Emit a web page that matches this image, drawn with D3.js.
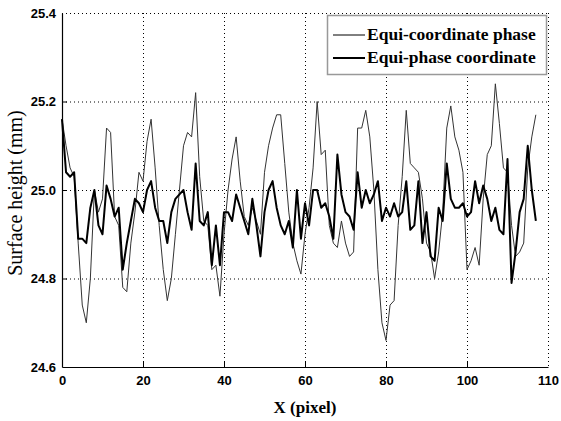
<!DOCTYPE html>
<html>
<head>
<meta charset="utf-8">
<script src="https://cdn.jsdelivr.net/npm/d3@7"></script>
<style>
  body { margin: 0; background: #fff; }
</style>
</head>
<body>
<script>
// tick values and labels
const xTicks = [0, 20, 40, 60, 80, 100, 120];
const xTickLabels = ["0", "20", "40", "60", "80", "100", "110"];
const yTicks = [24.6, 24.8, 25.0, 25.2, 25.4];

const seriesNames = ["Equi-coordinate phase", "Equi-phase coordinate"];

// thin line
const equiCoordPhase = [
  25.16, 25.10, 25.05, 25.03, 24.88, 24.74, 24.70, 24.80, 25.00, 24.95,
  24.98, 25.14, 25.13, 24.94, 24.92, 24.78, 24.77, 24.88, 24.95, 25.04,
  25.02, 25.11, 25.16, 25.05, 24.92, 24.82, 24.75, 24.80, 24.90, 25.00,
  25.10, 25.13, 25.12, 25.22, 25.03, 24.93, 24.92, 24.82, 24.83, 24.76,
  24.90, 25.00, 25.07, 25.12, 25.02, 24.94, 24.92, 24.96, 24.93, 24.90,
  25.04, 25.10, 25.14, 25.17, 25.17, 25.06, 24.95, 24.88, 24.84, 24.81,
  24.90, 24.96, 25.05, 25.20, 25.08, 25.09, 24.92, 24.88, 24.87, 24.93,
  24.88, 24.85, 24.86, 25.14, 25.14, 25.18, 25.12, 25.00, 24.82, 24.70,
  24.66, 24.74, 24.75, 24.92, 25.03, 25.18, 25.06, 25.05, 25.04, 24.98,
  24.88, 24.86, 24.80, 24.86, 24.95, 25.14, 25.19, 25.12, 25.09, 25.04,
  24.82, 24.84, 24.87, 24.83, 24.98, 25.08, 25.10, 25.24, 25.15, 25.05,
  25.04, 24.92, 24.85, 24.86, 24.88, 25.05, 25.12, 25.17
];

// thick line
const equiPhaseCoord = [
  25.16, 25.04, 25.03, 25.04, 24.89, 24.89, 24.88, 24.96, 25.00, 24.92,
  24.90, 25.01, 24.98, 24.94, 24.96, 24.82, 24.88, 24.93, 24.98, 24.97,
  24.95, 25.00, 25.02, 24.96, 24.93, 24.93, 24.88, 24.95, 24.98, 24.99,
  25.00, 24.95, 24.91, 25.06, 24.93, 24.92, 24.95, 24.83, 24.92, 24.83,
  24.95, 24.95, 24.93, 24.99, 24.96, 24.93, 24.90, 24.98, 24.92, 24.85,
  24.95, 25.00, 25.02, 24.96, 24.92, 24.90, 24.93, 24.87, 25.00, 24.89,
  24.97, 24.92, 25.00, 25.00, 24.96, 24.97, 24.94, 24.89, 25.08, 24.99,
  24.95, 24.94, 24.91, 25.04, 24.96, 25.00, 24.97, 24.99, 25.02, 24.93,
  24.96, 24.94, 24.97, 24.94, 24.95, 25.02, 24.91, 24.92, 25.02, 24.88,
  24.95, 24.85, 24.84, 24.96, 24.93, 25.06, 24.98, 24.96, 24.96, 24.97,
  24.94, 24.95, 25.02, 24.97, 25.01, 24.98, 24.93, 24.96, 24.91, 24.90,
  25.07, 24.79, 24.86, 24.95, 24.98, 25.10, 25.00, 24.93
];

const W = 561, H = 421;
const margin = { left: 62, right: 13, top: 13, bottom: 54 };
const width = W - margin.left - margin.right;
const height = H - margin.top - margin.bottom;

const svg = d3.select("body").append("svg")
  .attr("width", W)
  .attr("height", H);

const g = svg.append("g")
  .attr("transform", "translate(" + margin.left + "," + margin.top + ")");

const xScale = d3.scaleLinear().domain([0, 120]).range([0, width]);
const yScale = d3.scaleLinear().domain([24.6, 25.4]).range([height, 0]);

// dotted grid
g.selectAll(".vgrid").data(xTicks.slice(1)).enter().append("line")
  .attr("x1", d => xScale(d) + 0.5).attr("x2", d => xScale(d) + 0.5)
  .attr("y1", 0).attr("y2", height)
  .attr("stroke", "#000").attr("stroke-width", 1)
  .attr("stroke-dasharray", "1,3");

g.selectAll(".hgrid").data(yTicks.slice(1)).enter().append("line")
  .attr("x1", 0).attr("x2", width)
  .attr("y1", d => yScale(d) + 0.5).attr("y2", d => yScale(d) + 0.5)
  .attr("stroke", "#000").attr("stroke-width", 1)
  .attr("stroke-dasharray", "1,3");

// axes (ticks point inward)
const xAxis = d3.axisBottom(xScale)
  .tickValues(xTicks)
  .tickSizeInner(-5).tickSizeOuter(0)
  .tickPadding(9)
  .tickFormat((d, i) => xTickLabels[i]);

const yAxis = d3.axisLeft(yScale)
  .tickValues(yTicks)
  .tickSizeInner(-5).tickSizeOuter(0)
  .tickPadding(6)
  .tickFormat(d3.format(".1f"));

const xAxisGroup = g.append("g")
  .attr("transform", "translate(0," + height + ")")
  .call(xAxis);
const yAxisGroup = g.append("g").call(yAxis);

[xAxisGroup, yAxisGroup].forEach(function (ax) {
  ax.select(".domain").attr("stroke", "#000").attr("stroke-width", 1.2);
  ax.selectAll(".tick line").attr("stroke", "#000");
  ax.selectAll(".tick text")
    .attr("fill", "#000")
    .style("font-family", "'Liberation Sans', Arial, sans-serif")
    .style("font-weight", "bold")
    .style("font-size", "13px");
});
// no inner tick at the very ends
xAxisGroup.selectAll(".tick line").filter(d => d === 0 || d === 120).remove();
yAxisGroup.selectAll(".tick line").filter(d => d === 24.6 || d === 25.4).remove();

// lines
const idx = equiCoordPhase.map((v, i) => i);
const line = d3.line()
  .x((d, i) => xScale(idx[i]))
  .y(d => yScale(d));

g.append("path")
  .datum(equiCoordPhase)
  .attr("fill", "none")
  .attr("stroke", "#333")
  .attr("stroke-width", 1)
  .attr("d", line);

g.append("path")
  .datum(equiPhaseCoord)
  .attr("fill", "none")
  .attr("stroke", "#000")
  .attr("stroke-width", 2)
  .attr("stroke-linejoin", "round")
  .attr("d", line);

// axis titles
svg.append("text")
  .attr("x", margin.left + xScale(60))
  .attr("y", 413)
  .attr("text-anchor", "middle")
  .style("font-family", "'Liberation Serif', 'Times New Roman', serif")
  .style("font-weight", "bold")
  .style("font-size", "17px")
  .text("X (pixel)");

svg.append("text")
  .attr("transform", "translate(22," + (margin.top + height / 2 + 3) + ") rotate(-90)")
  .attr("text-anchor", "middle")
  .style("font-family", "'Liberation Serif', 'Times New Roman', serif")
  .style("font-size", "20px")
  .text("Surface height (mm)");

// legend
const legend = svg.append("g").attr("transform", "translate(327,15)");
legend.append("rect")
  .attr("x", 0.5).attr("y", 0.5)
  .attr("width", 219).attr("height", 59)
  .attr("fill", "#fff")
  .attr("stroke", "#999").attr("stroke-width", 1.5);

const legendWidths = [1, 2];
seriesNames.forEach(function (name, i) {
  const yy = 20 + i * 23;
  legend.append("line")
    .attr("x1", 6).attr("x2", 38)
    .attr("y1", yy).attr("y2", yy)
    .attr("stroke", "#000").attr("stroke-width", legendWidths[i]);
  legend.append("text")
    .attr("x", 40).attr("y", yy + 5)
    .style("font-family", "'Liberation Serif', 'Times New Roman', serif")
    .style("font-weight", "bold")
    .style("font-size", "17.5px")
    .text(name);
});
</script>
</body>
</html>
